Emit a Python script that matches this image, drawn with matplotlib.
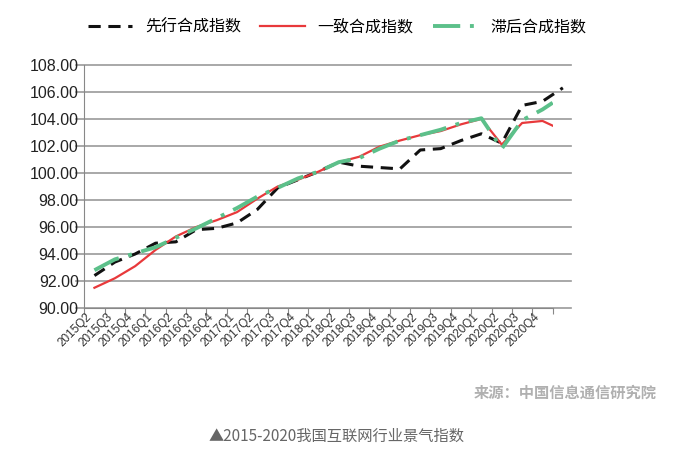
import matplotlib
matplotlib.use("Agg")
import matplotlib.pyplot as plt
import numpy as np

plt.rcParams['font.family'] = ['Noto Sans CJK SC', 'DejaVu Sans']

quarters = [f"{y}Q{q}" for y in range(2015, 2021) for q in range(1, 5)][1:]
leading = [92.4, 93.4, 94.0, 94.8, 94.9, 95.8, 95.9, 96.3, 97.3, 98.9, 99.5, 100.1,
           100.8, 100.5, 100.4, 100.3, 101.7, 101.8, 102.4, 102.9, 102.2, 105.0, 105.3, 106.3]
coincident = [91.5, 92.2, 93.1, 94.3, 95.3, 96.0, 96.5, 97.1, 98.1, 99.0, 99.5, 100.1,
              100.8, 101.2, 101.95, 102.4, 102.8, 103.1, 103.6, 104.0, 102.1, 103.7, 103.85, 103.5]
lagging = [92.8, 93.6, 94.05, 94.5, 95.2, 95.9, 96.65, 97.4, 98.25, 98.9, 99.6, 100.1,
           100.8, 101.1, 101.8, 102.4, 102.8, 103.2, 103.7, 104.05, 101.8, 103.9, 104.7, 105.2]

fig = plt.figure(figsize=(6.74, 4.57), dpi=100)
ax = fig.add_axes([0.125, 0.326, 0.695, 0.532])
x = np.arange(len(quarters), dtype=float)
xl = np.append(x, 23.0)
xe = np.append(x, 22.5)
ax.plot(xl, leading, color='#111111', lw=2.2, ls=(0, (4, 2.5)), label='先行合成指数', clip_on=False, zorder=3)
ax.plot(xe, coincident, color='#e8393b', lw=1.6, label='一致合成指数', zorder=4)
ax.plot(xe, lagging, color='#5cc08a', lw=2.8, ls=(0, (7, 2.5, 1, 2.5)), label='滞后合成指数', zorder=5)

ax.set_xlim(-0.5, 22.5)
ax.set_ylim(90, 108)
ax.set_yticks(np.arange(90, 108.1, 2))
ax.set_yticklabels([f"{v:.2f}" for v in np.arange(90, 108.1, 2)], fontsize=11.5,
                   color='#222222', family='Liberation Sans')
ax.set_xticks(np.arange(-0.5, 23, 1), minor=False)
ax.set_xticklabels([])
ax.set_xticks(x, minor=True)
ax.set_xticklabels(quarters, minor=True, rotation=45, ha='right', fontsize=8.5,
                   color='#333333', family='Liberation Sans')
ax.tick_params(axis='x', which='minor', length=0, pad=2)
ax.tick_params(axis='x', which='major', length=4, color='#888888')
ax.tick_params(axis='y', length=0, pad=4)
for v in np.arange(90, 108.1, 2):
    ax.plot([-0.9, 23.4], [v, v], color='#999999', lw=1.2, clip_on=False, zorder=1)
for s in ['top', 'right']:
    ax.spines[s].set_visible(False)
ax.spines['left'].set_color('#888888')
ax.spines['bottom'].set_color('#888888')

fig.legend(loc='upper center', bbox_to_anchor=(0.5, 0.99), ncol=3, frameon=False,
           fontsize=11.5, handlelength=2.8, columnspacing=1.2)
fig.text(0.975, 0.13, '来源：中国信息通信研究院', ha='right', fontsize=11, color='#b0b0b0', weight='bold')
fig.text(0.5, 0.035, '▲2015-2020我国互联网行业景气指数', ha='center', fontsize=11, color='#666666')
fig.savefig('out.png', dpi=100)
